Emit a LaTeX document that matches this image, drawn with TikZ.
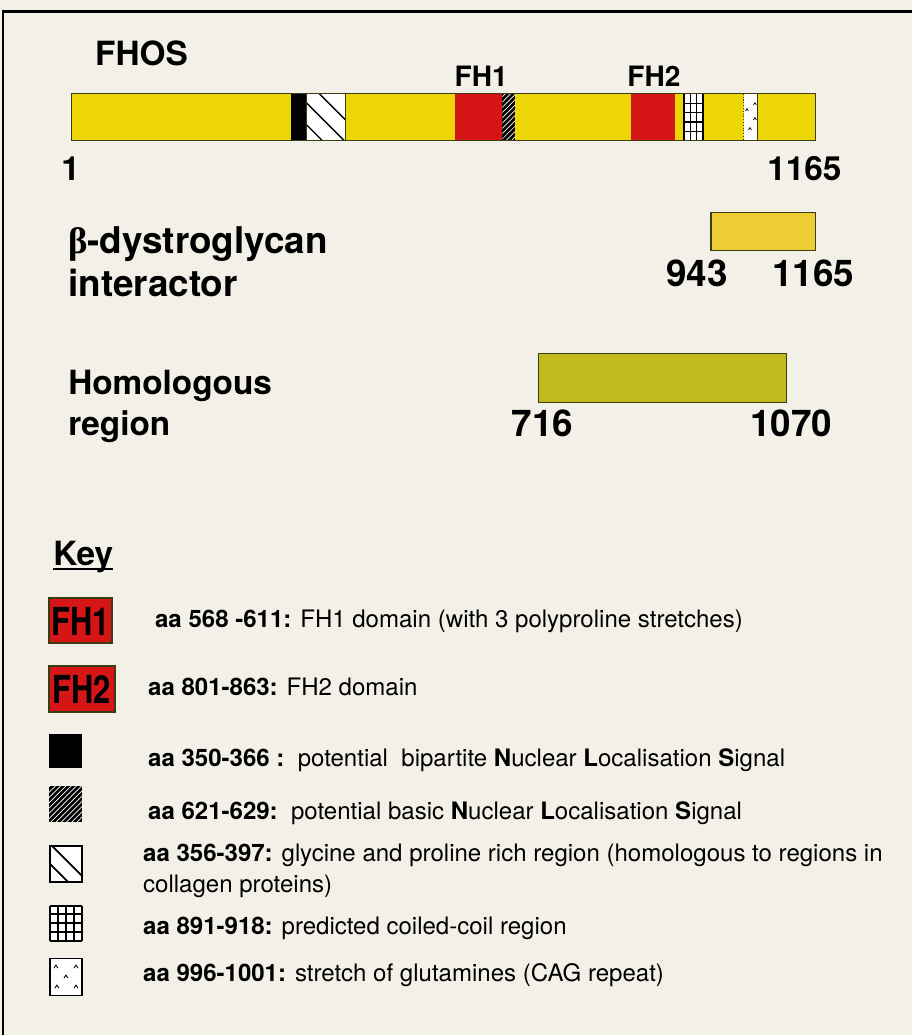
\documentclass[tikz,border=0pt]{standalone}
\usepackage{fontspec}
\setmainfont{TeX Gyre Heros}
\newfontfamily\greekfont{Liberation Serif}
\usetikzlibrary{patterns}
\definecolor{PaperBg}{RGB}{242,240,231}
\definecolor{FhosYellow}{RGB}{236,214,8}
\definecolor{DgYellow}{RGB}{236,206,52}
\definecolor{HomOlive}{RGB}{192,186,28}
\definecolor{DomainRed}{RGB}{214,22,22}
\definecolor{BarEdge}{RGB}{60,60,20}

\begin{document}
\begin{tikzpicture}[x=0.02cm,y=-0.02cm,
  every node/.style={inner sep=0pt, anchor=base west},
  biglbl/.style={font=\bfseries\fontsize{19}{22}\selectfont},
  widelbl/.style={font=\bfseries\fontsize{21}{24}\selectfont},
  fhlbl/.style={font=\bfseries\fontsize{16}{18}\selectfont},
  keytxt/.style={font=\fontsize{13.7}{16}\selectfont},
  keyfh/.style={anchor=center, font=\bfseries\fontsize{22}{22}\selectfont},
  baredge/.style={draw=BarEdge, line width=0.6pt},
  boxedge/.style={draw=black, line width=0.9pt}]

  % paper and frame
  \fill[PaperBg] (0,0) rectangle (913,1036);
  \draw[line width=1.7pt] (3,1036) -- (3,12) -- (913,12);

  % FHOS
  \fill[FhosYellow] (72,94) rectangle (817,141);
  \fill[black] (291,94) rectangle (307,141);
  \fill[white] (307,94) rectangle (346,141);
  \begin{scope}
    \clip (307,94) rectangle (346,141);
    \foreach \c in {182,204,226}
      \draw[line width=0.8pt] ({80+\c},80) -- ({150+\c},150);
  \end{scope}
  \draw[baredge] (307,94) rectangle (346,141);
  \fill[DomainRed] (456,94) rectangle (503,141);
  \fill[black] (503,94) rectangle (516,141);
  \fill[pattern=north east lines, pattern color=white] (503,94) rectangle (516,141);
  \fill[DomainRed] (632,94) rectangle (676,141);
  \fill[white] (685,94) rectangle (704,141);
  \foreach \x in {685,691.3,697.7,704}
    \draw[line width=0.8pt] (\x,94) -- (\x,141);
  \foreach \k in {1,...,4}
    \draw[line width=0.8pt] (685,{94+\k*9.4}) -- (704,{94+\k*9.4});
  \fill[white] (745,94) rectangle (759,141);
  \draw[baredge, densely dotted] (745,94) -- (745,141);
  \draw[baredge] (759,94) -- (759,141);
  \foreach \x/\y in {748/110,756/104,751/129,756/119}
    \draw[line width=0.4pt] (\x,\y) ++(-1.5,1.2) -- ++(1.5,-2.4) -- ++(1.5,2.4);
  \draw[baredge] (72,94) rectangle (817,141);

  \node[biglbl] (fhos) at (95,66) {FHOS};
  \node[fhlbl] (fh1) at (455,87) {FH1};
  \node[fhlbl] (fh2) at (628,87) {FH2};
  \node[biglbl] (fhosstart) at (61,181) {1};
  \node[biglbl] (fhosend) at (768,181) {1165};

  % beta-dystroglycan interactor
  \node[widelbl] (dgname) at (68,254) {{\greekfont β}-dystroglycan};
  \node[widelbl] (dgname2) at (68,297) {interactor};
  \fill[DgYellow] (712,213) rectangle (817,251);
  \draw[baredge] (712,213) rectangle (817,251);
  \node[widelbl] (dgstart) at (667,287) {943};
  \node[widelbl] (dgend) at (773,287) {1165};

  % homologous region
  \node[biglbl] (homname) at (68,395) {Homologous};
  \node[biglbl] (homname2) at (68,436) {region};
  \fill[HomOlive] (539,354) rectangle (788,403);
  \draw[baredge] (539,354) rectangle (788,403);
  \node[widelbl] (homstart) at (512,437) {716};
  \node[widelbl] (homend) at (751,437) {1070};

  % key
  \node[biglbl] (key) at (53,566) {Key};
  \draw[line width=1.2pt] ([yshift=-0.07cm]key.base west) -- ([yshift=-0.07cm]key.base east);

  \fill[DomainRed] (49,599) rectangle (112,644);
  \draw[draw=BarEdge, line width=1pt] (49,599) rectangle (112,644);
  \node[keyfh] (keyfh1) at (80.5,622) {\scalebox{0.8}[1]{FH1}};
  \node[keytxt] (txtfh1) at (155,628) {\textbf{aa 568 -611:} FH1 domain (with 3 polyproline stretches)};

  \fill[DomainRed] (49,667) rectangle (115,713);
  \draw[draw=BarEdge, line width=1pt] (49,667) rectangle (115,713);
  \node[keyfh] (keyfh2) at (82,690) {\scalebox{0.8}[1]{FH2}};
  \node[keytxt] (txtfh2) at (148,696) {\textbf{aa 801-863:} FH2 domain};

  \fill[black] (49,735) rectangle (82,769);
  \node[keytxt] (txtbip) at (148,768) {\textbf{aa 350-366 :}\ \ potential\ \ bipartite \textbf{N}uclear \textbf{L}ocalisation \textbf{S}ignal};

  \fill[black] (49,787) rectangle (82,823);
  \fill[pattern=north east lines, pattern color=white] (49,787) rectangle (82,823);
  \node[keytxt] (txtbas) at (148,821) {\textbf{aa 621-629:}\ \ potential basic \textbf{N}uclear \textbf{L}ocalisation \textbf{S}ignal};

  \fill[white] (50,847) rectangle (82,883);
  \begin{scope}
    \clip (50,847) rectangle (82,883);
    \foreach \c in {-795,-815}
      \draw[line width=1pt] ({830+\c},830) -- ({900+\c},900);
  \end{scope}
  \draw[boxedge] (50,847) rectangle (82,883);
  \node[keytxt] (txtgly) at (143,863) {\textbf{aa 356-397:} glycine and proline rich region (homologous to regions in};
  \node[keytxt] (txtgly2) at (143,894) {collagen proteins)};

  \fill[white] (50,907) rectangle (82,942);
  \foreach \k in {0,...,4} {
    \draw[line width=1.1pt] ({50+\k*8},907) -- ({50+\k*8},942);
    \draw[line width=1.1pt] (50,{907+\k*8.75}) -- (82,{907+\k*8.75});
  }
  \node[keytxt] (txtcoil) at (143,936) {\textbf{aa 891-918:} predicted coiled-coil region};

  \fill[white] (50,960) rectangle (82,997);
  \draw[boxedge] (50,960) rectangle (82,997);
  \foreach \x/\y in {56/968,76/968,66/978,57/988,76/988}
    \draw[line width=0.5pt] (\x,\y) ++(-2,1.5) -- ++(2,-3) -- ++(2,3);
  \node[keytxt] (txtgln) at (143,983) {\textbf{aa 996-1001:} stretch of glutamines (CAG repeat)};
\end{tikzpicture}
\end{document}
